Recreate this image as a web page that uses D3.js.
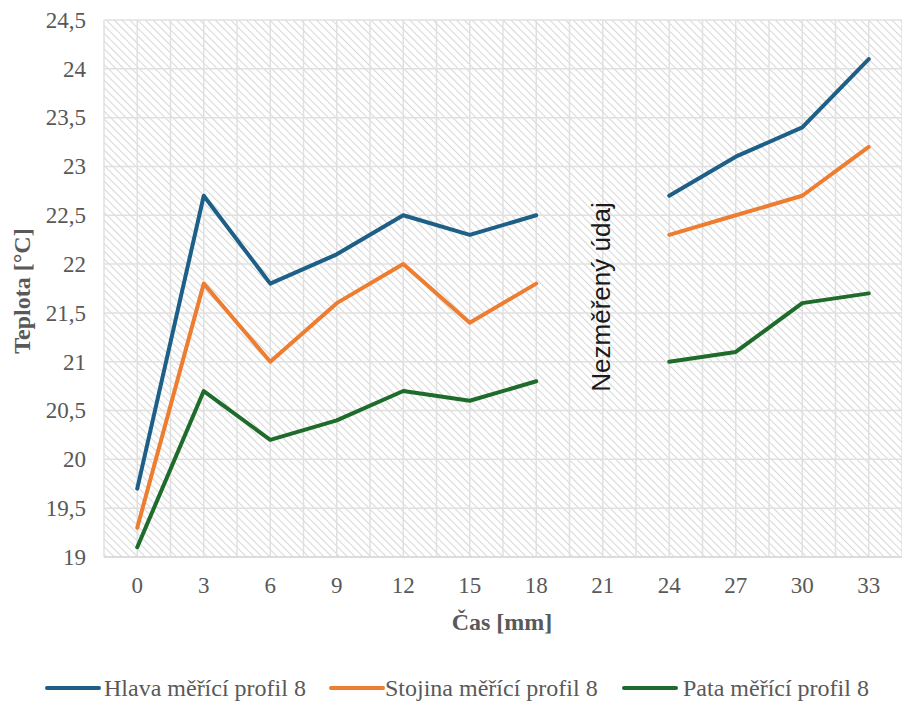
<!DOCTYPE html>
<html><head><meta charset="utf-8">
<script src="https://cdn.jsdelivr.net/npm/d3@7"></script>
<style>body{margin:0;background:#fff}svg{display:block;font-family:'Liberation Serif',serif}
</style>
</head><body>
<svg id="c" width="902" height="702"></svg>
<script>
const categories = ["0","3","6","9","12","15","18","21","24","27","30","33"];
const hlava   = [19.7,22.7,21.8,22.1,22.5,22.3,22.5,null,22.7,23.1,23.4,24.1];
const stojina = [19.3,21.8,21.0,21.6,22.0,21.4,21.8,null,22.3,22.5,22.7,23.2];
const pata    = [19.1,20.7,20.2,20.4,20.7,20.6,20.8,null,21.0,21.1,21.6,21.7];
const yTicks  = [19,19.5,20,20.5,21,21.5,22,22.5,23,23.5,24,24.5];
const seriesNames = ["Hlava měřící profil 8","Stojina měřící profil 8","Pata měřící profil 8"];
const colors = ["#1d5f87","#ed7d31","#1e6b2b"];
const series = [hlava, stojina, pata];

const svg = d3.select("#c");
const L=104, R=902, T=20, B=557;
const x = d3.scaleBand().domain(categories).range([L,R]).padding(0);
const y = d3.scaleLinear().domain([19,24.5]).range([B,T]);
const SERIF = "'Liberation Serif', serif";

const defs = svg.append("defs");
const pat = defs.append("pattern").attr("id","hatch").attr("patternUnits","userSpaceOnUse")
  .attr("width",5.5).attr("height",5.5).attr("patternTransform","rotate(-45)");
pat.append("rect").attr("width",5.5).attr("height",5.5).attr("fill","#fff");
pat.append("line").attr("x1",0).attr("y1",0).attr("x2",0).attr("y2",5.5)
  .attr("stroke","#d6d6d6").attr("stroke-width",2);

svg.append("rect").attr("x",L).attr("y",T).attr("width",R-L).attr("height",B-T).attr("fill","url(#hatch)");

const grid = svg.append("g").attr("stroke","#e0e0e0").attr("stroke-width",1.5);
yTicks.forEach(t=>grid.append("line").attr("x1",L).attr("x2",R).attr("y1",y(t)).attr("y2",y(t)));
categories.forEach(c=>{
  const xs=[x(c), x(c)+x.bandwidth()/2];
  xs.forEach(v=>grid.append("line").attr("x1",v).attr("x2",v).attr("y1",T).attr("y2",B));
});
grid.append("line").attr("x1",R).attr("x2",R).attr("y1",T).attr("y2",B);

svg.append("line").attr("x1",L).attr("x2",R).attr("y1",B).attr("y2",B).attr("stroke","#d9d9d9").attr("stroke-width",1.5);

const fmt = v => String(v).replace(".",",");
svg.append("g").selectAll("text").data(yTicks).join("text").style("font-family",SERIF)
  .attr("x",86).attr("y",d=>y(d)).attr("dy","0.34em").attr("text-anchor","end")
  .style("font-size","23px").attr("fill","#595959").text(fmt);
svg.append("g").selectAll("text").data(categories).join("text").style("font-family",SERIF)
  .attr("x",d=>x(d)+x.bandwidth()/2).attr("y",593).attr("text-anchor","middle")
  .style("font-size","23px").attr("fill","#595959").text(d=>d);

svg.append("text").style("font-family",SERIF).attr("transform","translate(30,291) rotate(-90)").attr("text-anchor","middle")
  .style("font-size","24px").style("font-weight","bold").attr("fill","#595959").text("Teplota [°C]");
svg.append("text").style("font-family",SERIF).attr("x",502).attr("y",630).attr("text-anchor","middle")
  .style("font-size","24px").style("font-weight","bold").attr("fill","#595959").text("Čas [mm]");

svg.append("text").attr("transform","translate(610,297) rotate(-90)").attr("text-anchor","middle")
  .style("font-family","'Liberation Sans',Arial,sans-serif").style("font-size","26px").attr("fill","#1a1a1a").text("Nezměřený údaj");

const line = d3.line().defined(d=>d.v!=null).x(d=>x(d.c)+x.bandwidth()/2).y(d=>y(d.v));
series.forEach((s,i)=>{
  svg.append("path").datum(categories.map((c,j)=>({c,v:s[j]})))
    .attr("d",line).attr("fill","none").attr("stroke",colors[i]).attr("stroke-width",4)
    .attr("stroke-linecap","round").attr("stroke-linejoin","round");
});

const legX=[47,331,624];
const legT=[104,385,683];
seriesNames.forEach((n,i)=>{
  svg.append("line").attr("x1",legX[i]).attr("x2",legX[i]+52).attr("y1",688).attr("y2",688)
    .attr("stroke",colors[i]).attr("stroke-width",4).attr("stroke-linecap","round");
  svg.append("text").style("font-family",SERIF).attr("x",legT[i]).attr("y",688).attr("dy","0.35em")
    .style("font-size","24px").attr("fill","#595959").text(n);
});
</script>
</body></html>
